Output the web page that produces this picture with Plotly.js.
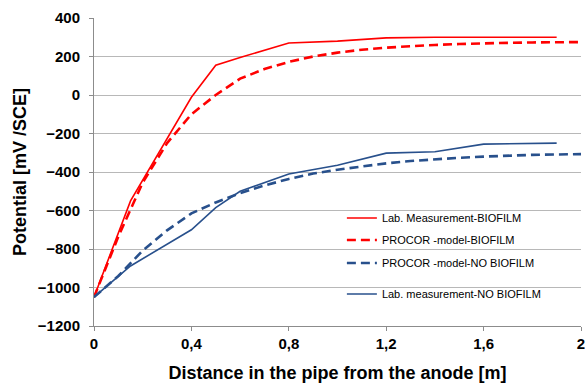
<!DOCTYPE html>
<html>
<head>
<meta charset="utf-8">
<script src="https://cdn.plot.ly/plotly-3.0.1.min.js"></script>
<style>html,body{margin:0;padding:0;background:#fff;}#chart{width:585px;height:384px;}</style>
</head>
<body>
<div id="chart"></div>
<script>
// Lab measurements
const xLab = [0, 0.15, 0.4, 0.5, 0.6, 0.8, 1.0, 1.2, 1.4, 1.6, 1.9];
const labBiofilm = [-1050, -550, -12, 155, 195, 270, 280, 297, 300, 300, 300];
const labNoBiofilm = [-1050, -888, -700, -585, -500, -410, -365, -302, -295, -255, -250];
// PROCOR model
const xModel = [0, 0.1, 0.2, 0.3, 0.4, 0.5, 0.6, 0.7, 0.8, 0.9, 1.0, 1.1, 1.2, 1.3, 1.4, 1.5, 1.6, 1.7, 1.8, 1.9, 2.0];
const modelBiofilm = [-1050, -735, -455, -250, -100, 0, 85, 135, 172, 200, 220, 235, 246, 254, 260, 265, 269, 271, 273, 274, 275];
const modelNoBiofilm = [-1050, -940, -808, -703, -615, -558, -510, -470, -436, -408, -388, -371, -355, -343, -333, -326, -320, -315, -311, -309, -307];
// Axis ticks
const xTickVals = [0, 0.4, 0.8, 1.2, 1.6, 2];
const xTickText = ["0", "0,4", "0,8", "1,2", "1,6", "2"];
const yTickVals = [-1200, -1000, -800, -600, -400, -200, 0, 200, 400];

const RED = "#ff0000";
const BLUE = "#28508c";
const FONT = "Liberation Sans, Arial, sans-serif";

const traces = [
  {x: xLab, y: labBiofilm, name: "Lab. Measurement-BIOFILM", mode: "lines",
   line: {color: RED, width: 1.6}, legend: "legend"},
  {x: xModel, y: modelBiofilm, name: "PROCOR -model-BIOFILM", mode: "lines", line: {color: RED, width: 2.6, dash: "9px,5px"}, legend: "legend2"},
  {x: xModel, y: modelNoBiofilm, name: "PROCOR -model-NO BIOFILM", mode: "lines", line: {color: BLUE, width: 2.6, dash: "9px,5px"}, legend: "legend3"},
  {x: xLab, y: labNoBiofilm, name: "Lab. measurement-NO BIOFILM", mode: "lines",
   line: {color: BLUE, width: 1.6}, legend: "legend4"}
];

function leg(ypix) {
  return {x: 0.509, xanchor: "left", y: (326 - ypix) / 308, yanchor: "middle",
    bgcolor: "rgba(0,0,0,0)", borderwidth: 0,
    font: {family: FONT, size: 11, color: "#000"}};
}

const layout = {
  width: 585, height: 384,
  margin: {l: 94, r: 4, t: 18, b: 58},
  paper_bgcolor: "#fff", plot_bgcolor: "#fff",
  font: {family: FONT, color: "#000"},
  showlegend: true,
  legend: leg(218), legend2: leg(240), legend3: leg(263), legend4: leg(294),
  xaxis: {
    range: [0, 2], tickvals: xTickVals, ticktext: xTickText,
    showgrid: false, zeroline: false,
    showline: true, linecolor: "#8c8c8c", linewidth: 1,
    ticks: "outside", ticklen: 4, tickcolor: "#8c8c8c", ticklabeloverflow: "allow",
    tickfont: {family: FONT, size: 15, color: "#000", weight: "bold"},
    title: {text: "<b>Distance in the pipe from the anode [m]</b>", font: {family: FONT, size: 18, color: "#000"}, standoff: 15}
  },
  yaxis: {
    range: [-1200, 400], tickvals: yTickVals,
    showgrid: true, gridcolor: "#b8b8b8", gridwidth: 1, zeroline: false,
    showline: true, linecolor: "#8c8c8c", linewidth: 1,
    ticks: "outside", ticklen: 4, tickcolor: "#8c8c8c", ticklabelstandoff: 6,
    tickfont: {family: FONT, size: 15, color: "#000", weight: "bold"},
    title: {text: "<b>Potential [mV /SCE]</b>", font: {family: FONT, size: 18, color: "#000"}, standoff: 6}
  }
};

Plotly.newPlot("chart", traces, layout, {displayModeBar: false, staticPlot: true});
</script>
</body>
</html>
